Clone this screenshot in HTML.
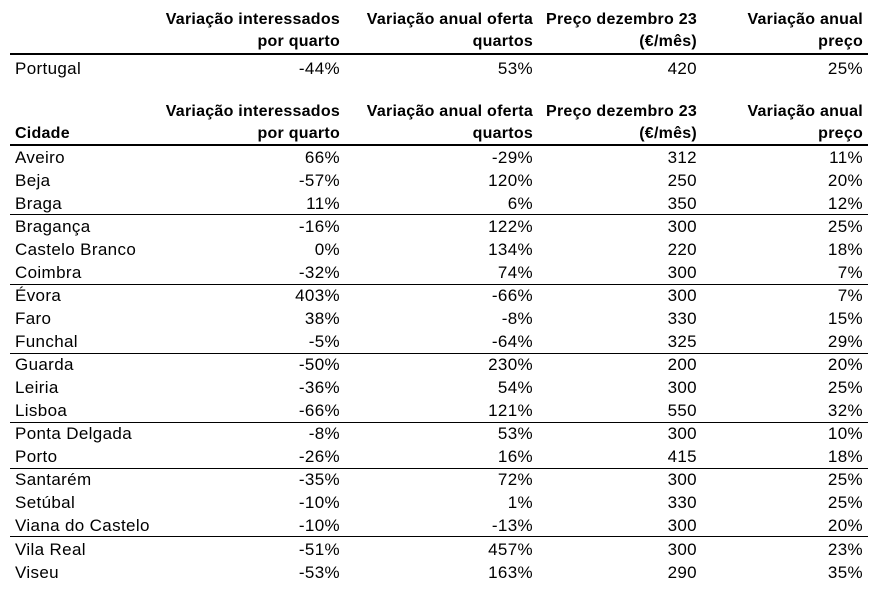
<!DOCTYPE html>
<html><head><meta charset="utf-8"><style>
body{margin:0;width:886px;height:609px;background:#fff;position:relative;font-family:"Liberation Sans",Arial,sans-serif;font-size:17px;letter-spacing:0.35px;color:#000;overflow:hidden}
.r{position:absolute;left:0;width:886px;height:18px;line-height:18px}
.r span{position:absolute;white-space:nowrap}
.n{left:15px}
.c1{right:546px}.c2{right:353px}.c3{right:189px}.c4{right:23px}
.b{font-size:16px;font-weight:bold;letter-spacing:0.25px}
.l{position:absolute;left:10px;width:858px;background:#000}
</style></head><body>
<div class="r b" style="top:11px"><span class="c1">Variação interessados</span><span class="c2">Variação anual oferta</span><span class="c3">Preço dezembro 23</span><span class="c4">Variação anual</span></div>
<div class="r b" style="top:33px"><span class="c1">por quarto</span><span class="c2">quartos</span><span class="c3">(€/mês)</span><span class="c4">preço</span></div>
<div class="l" style="top:53px;height:2px"></div>
<div class="r" style="top:60px"><span class="n">Portugal</span><span class="c1">-44%</span><span class="c2">53%</span><span class="c3">420</span><span class="c4">25%</span></div>
<div class="r b" style="top:103px"><span class="c1">Variação interessados</span><span class="c2">Variação anual oferta</span><span class="c3">Preço dezembro 23</span><span class="c4">Variação anual</span></div>
<div class="r b" style="top:125px"><span class="n">Cidade</span><span class="c1">por quarto</span><span class="c2">quartos</span><span class="c3">(€/mês)</span><span class="c4">preço</span></div>
<div class="l" style="top:144px;height:2px"></div>
<div class="r" style="top:149px"><span class="n">Aveiro</span><span class="c1">66%</span><span class="c2">-29%</span><span class="c3">312</span><span class="c4">11%</span></div>
<div class="r" style="top:172px"><span class="n">Beja</span><span class="c1">-57%</span><span class="c2">120%</span><span class="c3">250</span><span class="c4">20%</span></div>
<div class="r" style="top:195px"><span class="n">Braga</span><span class="c1">11%</span><span class="c2">6%</span><span class="c3">350</span><span class="c4">12%</span></div>
<div class="l" style="top:214px;height:1px"></div>
<div class="r" style="top:218px"><span class="n">Bragança</span><span class="c1">-16%</span><span class="c2">122%</span><span class="c3">300</span><span class="c4">25%</span></div>
<div class="r" style="top:241px"><span class="n">Castelo Branco</span><span class="c1">0%</span><span class="c2">134%</span><span class="c3">220</span><span class="c4">18%</span></div>
<div class="r" style="top:264px"><span class="n">Coimbra</span><span class="c1">-32%</span><span class="c2">74%</span><span class="c3">300</span><span class="c4">7%</span></div>
<div class="l" style="top:284px;height:1px"></div>
<div class="r" style="top:287px"><span class="n">Évora</span><span class="c1">403%</span><span class="c2">-66%</span><span class="c3">300</span><span class="c4">7%</span></div>
<div class="r" style="top:310px"><span class="n">Faro</span><span class="c1">38%</span><span class="c2">-8%</span><span class="c3">330</span><span class="c4">15%</span></div>
<div class="r" style="top:333px"><span class="n">Funchal</span><span class="c1">-5%</span><span class="c2">-64%</span><span class="c3">325</span><span class="c4">29%</span></div>
<div class="l" style="top:353px;height:1px"></div>
<div class="r" style="top:356px"><span class="n">Guarda</span><span class="c1">-50%</span><span class="c2">230%</span><span class="c3">200</span><span class="c4">20%</span></div>
<div class="r" style="top:379px"><span class="n">Leiria</span><span class="c1">-36%</span><span class="c2">54%</span><span class="c3">300</span><span class="c4">25%</span></div>
<div class="r" style="top:402px"><span class="n">Lisboa</span><span class="c1">-66%</span><span class="c2">121%</span><span class="c3">550</span><span class="c4">32%</span></div>
<div class="l" style="top:422px;height:1px"></div>
<div class="r" style="top:425px"><span class="n">Ponta Delgada</span><span class="c1">-8%</span><span class="c2">53%</span><span class="c3">300</span><span class="c4">10%</span></div>
<div class="r" style="top:448px"><span class="n">Porto</span><span class="c1">-26%</span><span class="c2">16%</span><span class="c3">415</span><span class="c4">18%</span></div>
<div class="l" style="top:468px;height:1px"></div>
<div class="r" style="top:471px"><span class="n">Santarém</span><span class="c1">-35%</span><span class="c2">72%</span><span class="c3">300</span><span class="c4">25%</span></div>
<div class="r" style="top:494px"><span class="n">Setúbal</span><span class="c1">-10%</span><span class="c2">1%</span><span class="c3">330</span><span class="c4">25%</span></div>
<div class="r" style="top:517px"><span class="n">Viana do Castelo</span><span class="c1">-10%</span><span class="c2">-13%</span><span class="c3">300</span><span class="c4">20%</span></div>
<div class="l" style="top:536px;height:1px"></div>
<div class="r" style="top:541px"><span class="n">Vila Real</span><span class="c1">-51%</span><span class="c2">457%</span><span class="c3">300</span><span class="c4">23%</span></div>
<div class="r" style="top:564px"><span class="n">Viseu</span><span class="c1">-53%</span><span class="c2">163%</span><span class="c3">290</span><span class="c4">35%</span></div>
</body></html>
